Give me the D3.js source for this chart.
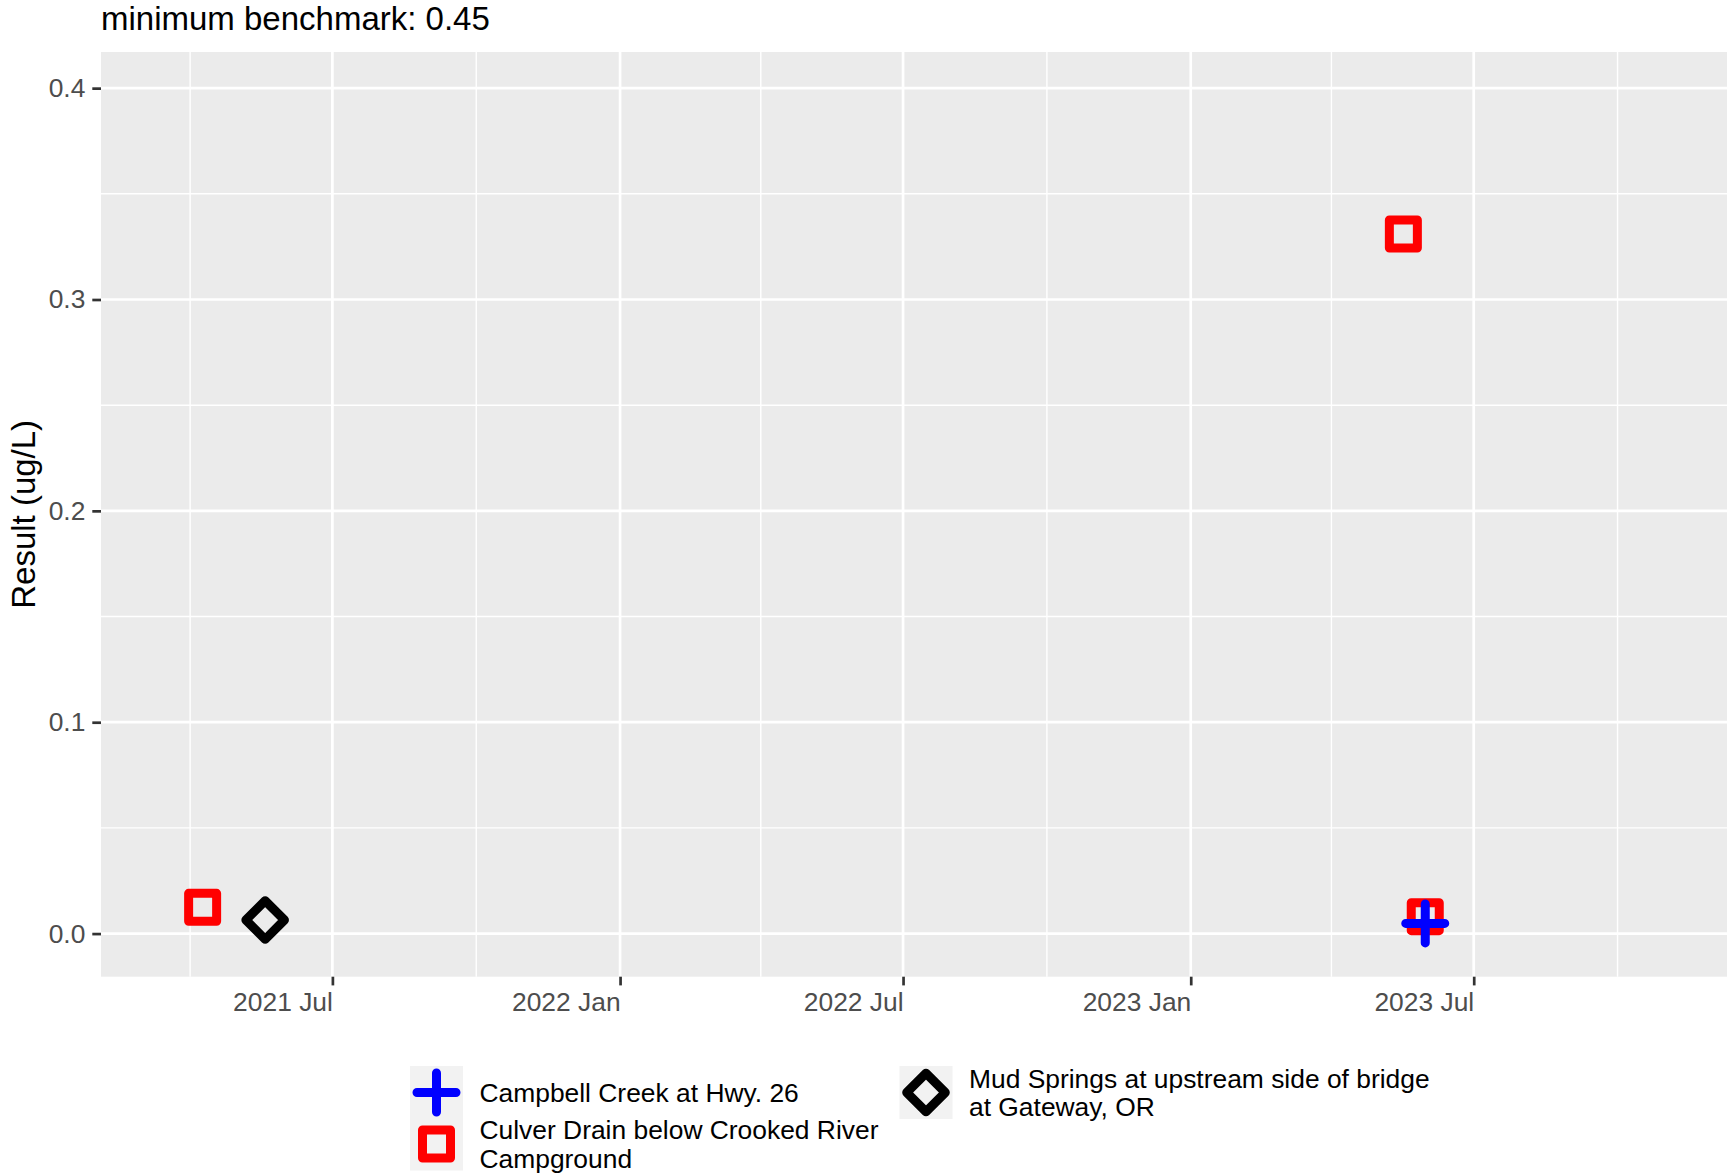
<!DOCTYPE html>
<html>
<head>
	<meta charset="utf-8">
	<title>Result chart</title>
	<script src="https://d3js.org/d3.v7.min.js"></script>
	<style>
		body { margin: 0; background: #fff; }
		text { font-family: "Liberation Sans", Arial, sans-serif; }
	</style>
</head>
<body>
	<script type="text/javascript">
		var width = 1727,
			height = 1173;

		// data
		var sites = ["Campbell Creek at Hwy. 26",
			"Culver Drain below Crooked River Campground",
			"Mud Springs at upstream side of bridge at Gateway, OR"];
		var legendLines = [["Campbell Creek at Hwy. 26"],
			["Culver Drain below Crooked River", "Campground"],
			["Mud Springs at upstream side of bridge", "at Gateway, OR"]];
		var siteColors = ["#0000ff", "#ff0000", "#000000"];
		var siteShapes = ["plus", "square", "diamond"];

		var sampleDates = ["2021-04-09", "2021-05-19", "2023-05-17", "2023-05-31", "2023-05-31"];
		var sampleSite = [1, 2, 1, 1, 0];
		var sampleResult = [0.0124, 0.0064, 0.331, 0.0080, 0.0048];

		var yTicks = [0, 0.1, 0.2, 0.3, 0.4];
		var yMinor = [0.05, 0.15, 0.25, 0.35];
		var xTicks = ["2021-07-01", "2022-01-01", "2022-07-01", "2023-01-01", "2023-07-01"];
		var xMinor = ["2021-04-01", "2021-10-01", "2022-04-01", "2022-10-01", "2023-04-01", "2023-10-01"];

		var title = "minimum benchmark: 0.45";
		var yTitle = "Result (ug/L)";

		var parse = d3.utcParse("%Y-%m-%d");
		var panel = {left: 101, top: 52, right: width, bottom: 976.7};

		var svg = d3.select("body").append("svg")
			.attr("width", width)
			.attr("height", height);

		var xScale = d3.scaleUtc()
			.domain([parse("2021-02-03"), parse("2023-12-10")])
			.range([panel.left, panel.right]);
		var yScale = d3.scaleLinear()
			.domain([-0.0204, 0.4171])
			.range([panel.bottom, panel.top]);

		// panel
		svg.append("rect")
			.attr("x", panel.left).attr("y", panel.top)
			.attr("width", panel.right - panel.left)
			.attr("height", panel.bottom - panel.top)
			.attr("fill", "#ebebeb");

		var grid = svg.append("g");
		grid.selectAll(".ymin").data(yMinor).enter().append("line")
			.attr("x1", panel.left).attr("x2", panel.right)
			.attr("y1", d => yScale(d)).attr("y2", d => yScale(d))
			.attr("stroke", "#fff").attr("stroke-width", 1.4);
		grid.selectAll(".xmin").data(xMinor).enter().append("line")
			.attr("y1", panel.top).attr("y2", panel.bottom)
			.attr("x1", d => xScale(parse(d))).attr("x2", d => xScale(parse(d)))
			.attr("stroke", "#fff").attr("stroke-width", 1.4);
		grid.selectAll(".ymaj").data(yTicks).enter().append("line")
			.attr("x1", panel.left).attr("x2", panel.right)
			.attr("y1", d => yScale(d)).attr("y2", d => yScale(d))
			.attr("stroke", "#fff").attr("stroke-width", 2.7);
		grid.selectAll(".xmaj").data(xTicks).enter().append("line")
			.attr("y1", panel.top).attr("y2", panel.bottom)
			.attr("x1", d => xScale(parse(d))).attr("x2", d => xScale(parse(d)))
			.attr("stroke", "#fff").attr("stroke-width", 2.7);

		// axes
		var yAxis = d3.axisLeft(yScale)
			.tickValues(yTicks)
			.tickFormat(d3.format(".1f"))
			.tickSize(8.7)
			.tickPadding(7);
		var gy = svg.append("g")
			.attr("transform", "translate(" + panel.left + ",0)")
			.call(yAxis);

		var xAxis = d3.axisBottom(xScale)
			.tickValues(xTicks.map(parse))
			.tickFormat(d3.utcFormat("%Y %b"))
			.tickSize(8.7)
			.tickPadding(6.6);
		var gx = svg.append("g")
			.attr("transform", "translate(0," + panel.bottom + ")")
			.call(xAxis);

		[gx, gy].forEach(function(g) {
			g.select(".domain").remove();
			g.selectAll(".tick line").attr("stroke", "#333333").attr("stroke-width", 2.7);
			g.selectAll(".tick text")
				.attr("fill", "#4d4d4d")
				.style("font-size", "26.4px")
				.style("font-family", "'Liberation Sans', Arial, sans-serif");
		});
		gx.selectAll(".tick text").attr("text-anchor", "end");

		// titles
		svg.append("text")
			.attr("x", panel.left).attr("y", 30)
			.style("font-size", "33px")
			.attr("fill", "#000")
			.text(title);

		svg.append("text")
			.attr("transform", "translate(35," + ((panel.top + panel.bottom) / 2) + ") rotate(-90)")
			.attr("text-anchor", "middle")
			.style("font-size", "33px")
			.attr("fill", "#000")
			.text(yTitle);

		// marker shapes
		function shapePath(shape) {
			if (shape === "plus") return "M-19.5,0H19.5M0,-19.5V19.5";
			if (shape === "square") return "M-14,-14H14V14H-14Z";
			return "M0,-19.3L19.3,0L0,19.3L-19.3,0Z";
		}

		var points = sampleDates.map(function(d, i) {
			return {date: parse(d), site: sampleSite[i], value: sampleResult[i]};
		});

		svg.append("g").selectAll("path")
			.data(points)
			.enter()
			.append("path")
			.attr("transform", d => "translate(" + xScale(d.date) + "," + yScale(d.value) + ")")
			.attr("d", d => shapePath(siteShapes[d.site]))
			.attr("fill", "none")
			.attr("stroke", d => siteColors[d.site])
			.attr("stroke-width", 9)
			.attr("stroke-linejoin", "round")
			.attr("stroke-linecap", "round");

		// legend: 2 rows, filled by column
		var legendCols = [410, 899.5];
		var legendRows = [1066, 1117.5];
		var keyW = 53, keyH = 53;
		var legend = svg.append("g");
		sites.forEach(function(s, i) {
			var col = Math.floor(i / 2), row = i % 2;
			var kx = legendCols[col], ky = legendRows[row];
			var item = legend.append("g");
			item.append("rect")
				.attr("x", kx).attr("y", ky)
				.attr("width", keyW).attr("height", keyH)
				.attr("fill", "#f2f2f2");
			item.append("path")
				.attr("transform", "translate(" + (kx + keyW / 2) + "," + (ky + keyH / 2) + ")")
				.attr("d", shapePath(siteShapes[i]))
				.attr("fill", "none")
				.attr("stroke", siteColors[i])
				.attr("stroke-width", 9)
				.attr("stroke-linejoin", "round")
				.attr("stroke-linecap", "round");
			var lines = legendLines[i];
			var lineH = 28.6;
			var base = ky + keyH / 2 + 9.5 - (lines.length - 1) * lineH / 2;
			item.selectAll("text")
				.data(lines)
				.enter()
				.append("text")
				.attr("x", kx + keyW + 16.5)
				.attr("y", (d, j) => base + j * lineH)
				.style("font-size", "26.4px")
				.attr("fill", "#000")
				.text(d => d);
		});
	</script>
</body>
</html>
